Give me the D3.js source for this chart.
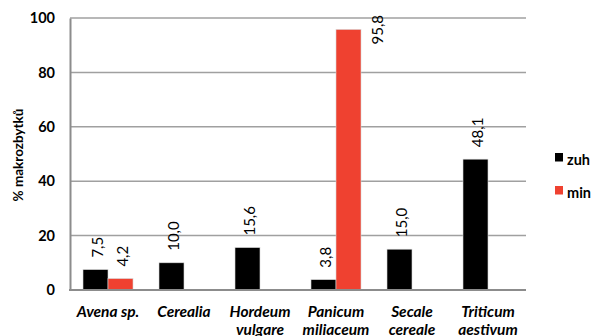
<!DOCTYPE html>
<html>
<head>
<meta charset="utf-8">
<script src="https://cdn.jsdelivr.net/npm/d3@7/dist/d3.min.js"></script>
<style>
  html, body { margin: 0; padding: 0; background: #fff; }
  svg { display: block; font-family: Lato, "Open Sans", sans-serif; }
</style>
</head>
<body>
<svg id="chart" width="592" height="336"></svg>
<script>
// Taxa (two-line labels) and share of macro-remains per context
const categories = ["Avena sp.", "Cerealia", "Hordeum vulgare", "Panicum miliaceum", "Secale cereale", "Triticum aestivum"];
const categoryLines = [["Avena sp."], ["Cerealia"], ["Hordeum", "vulgare"], ["Panicum", "miliaceum"], ["Secale", "cereale"], ["Triticum", "aestivum"]];
const seriesNames = ["zuh", "min"];
const seriesColors = ["#000000", "#ef4130"];
const zuhValues = [7.5, 10.0, 15.6, 3.8, 15.0, 48.1];
const minValues = [4.2, null, null, 95.8, null, null];
const yTicks = [0, 20, 40, 60, 80, 100];
const yTitle = "% makrozbytků";

const svg = d3.select("#chart");
const plot = { left: 70, right: 526, top: 18, bottom: 290 };

const x = d3.scaleBand().domain(categories).range([plot.left, plot.right]).paddingInner(0).paddingOuter(0);
const inner = d3.scaleBand().domain(seriesNames).range([13, x.bandwidth() - 13]);
const y = d3.scaleLinear().domain([0, 100]).range([plot.bottom, plot.top]);

// Horizontal gridlines
svg.append("g")
  .selectAll("line")
  .data(yTicks.filter(t => t > 0))
  .join("line")
  .attr("x1", plot.left).attr("x2", plot.right)
  .attr("y1", d => y(d)).attr("y2", d => y(d))
  .attr("stroke", "#a0a0a0").attr("stroke-width", 1.5);

// Y axis
const yAxis = svg.append("g")
  .attr("transform", `translate(${plot.left},0)`)
  .call(d3.axisLeft(y).tickValues(yTicks).tickSize(0).tickPadding(15));
yAxis.select(".domain").attr("stroke", "#8c8c8c").attr("stroke-width", 2);
yAxis.selectAll("text")
  .attr("font-family", "Lato, sans-serif")
  .attr("font-size", 14.5).attr("font-weight", "bold").attr("fill", "#000");

// Y axis title
svg.append("text")
  .attr("transform", `translate(18,155) rotate(-90)`)
  .attr("text-anchor", "middle").attr("dominant-baseline", "central")
  .attr("font-size", 13.5).attr("font-weight", "bold")
  .text(yTitle);

// Bars
const rows = categories.map((c, i) => ({
  cat: c,
  vals: [
    { s: seriesNames[0], v: zuhValues[i], color: seriesColors[0] },
    { s: seriesNames[1], v: minValues[i], color: seriesColors[1] }
  ].filter(d => d.v != null)
}));

const groups = svg.append("g").selectAll("g")
  .data(rows).join("g")
  .attr("transform", d => `translate(${x(d.cat)},0)`);

groups.selectAll("rect")
  .data(d => d.vals).join("rect")
  .attr("x", d => inner(d.s))
  .attr("width", inner.bandwidth())
  .attr("y", d => y(d.v))
  .attr("height", d => y(0) - y(d.v))
  .attr("fill", d => d.color)
  .attr("stroke", "#d8d8d8").attr("stroke-width", 0.6);

// Value labels (rotated); a bar reaching the top gets its label beside it
const fmt = v => d3.format(".1f")(v).replace(".", ",");
groups.selectAll("text.val")
  .data(d => d.vals).join("text")
  .attr("class", "val")
  .attr("font-size", 15).attr("fill", "#000")
  .attr("transform", d => {
    const cx = inner(d.s) + inner.bandwidth() / 2;
    if (d.v > 90) {
      return `translate(${inner(d.s) + inner.bandwidth() + 22},${plot.top - 3}) rotate(-90)`;
    }
    return `translate(${cx + 7},${y(d.v) - 12}) rotate(-90)`;
  })
  .attr("text-anchor", d => d.v > 90 ? "end" : "start")
  .text(d => fmt(d.v));

// X axis line
svg.append("line")
  .attr("x1", plot.left - 1).attr("x2", plot.right)
  .attr("y1", plot.bottom).attr("y2", plot.bottom)
  .attr("stroke", "#8c8c8c").attr("stroke-width", 2);

// Category labels
const catText = svg.append("g").selectAll("text")
  .data(categories).join("text")
  .attr("x", d => x(d) + x.bandwidth() / 2)
  .attr("y", 317)
  .attr("text-anchor", "middle")
  .attr("font-size", 15.5).attr("font-weight", "bold").attr("font-style", "italic");
catText.selectAll("tspan")
  .data((d, i) => categoryLines[i]).join("tspan")
  .attr("x", function () { return d3.select(this.parentNode).attr("x"); })
  .attr("dy", (d, i) => i === 0 ? 0 : 17.5)
  .text(d => d);

// Legend
const legend = svg.append("g").selectAll("g")
  .data(seriesNames).join("g")
  .attr("transform", (d, i) => `translate(555,${153 + i * 33})`);
legend.append("rect")
  .attr("width", 8).attr("height", 8.5)
  .attr("fill", (d, i) => seriesColors[i]);
legend.append("text")
  .attr("x", 12).attr("y", 12)
  .attr("font-size", 14.5).attr("font-weight", "bold")
  .text(d => d);
</script>
</body>
</html>
